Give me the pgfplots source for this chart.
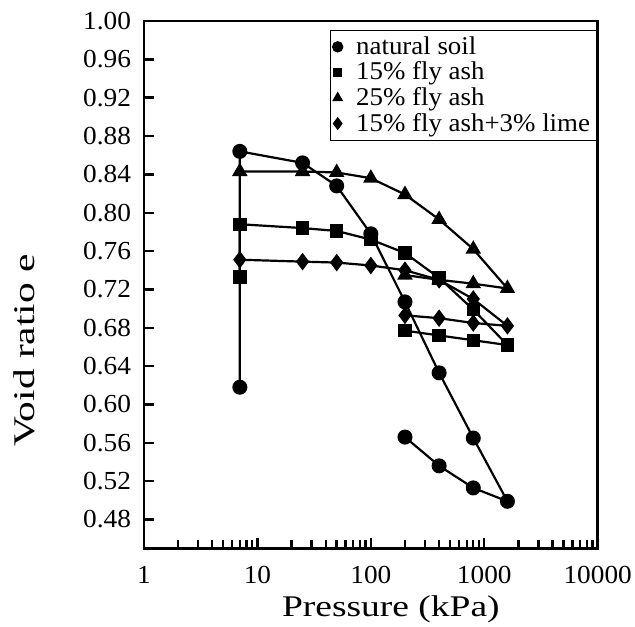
\documentclass[border=0pt]{standalone}
\usepackage{fontspec}
\setmainfont{Liberation Serif}
\newfontfamily\labelfont{Liberation Serif}[FakeStretch=1.25]
\newfontfamily\ylabelfont{Liberation Serif}[FakeStretch=1.38]
\newfontfamily\tickfont{Liberation Serif}[FakeStretch=1.05]
\usepackage{pgfplots}
\pgfplotsset{compat=1.18}
\begin{document}
\begin{tikzpicture}
\begin{axis}[name=ax, scale only axis, width=226.9pt, height=263.7pt,
  xmode=log, xmin=1, xmax=10000, ymin=0.45, ymax=1.0,
  xtick={1,10,100,1000,10000},
  xticklabels={1,10,100,1000,10000},
  minor xtick={2,3,4,5,6,7,8,9,20,30,40,50,60,70,80,90,200,300,400,500,600,700,800,900,2000,3000,4000,5000,6000,7000,8000,9000},
  ytick={0.48,0.52,0.56,0.60,0.64,0.68,0.72,0.76,0.80,0.84,0.88,0.92,0.96,1.00},
  yticklabels={0.48,0.52,0.56,0.60,0.64,0.68,0.72,0.76,0.80,0.84,0.88,0.92,0.96,1.00},
  tick align=inside, tick pos=left,
  major tick length=5pt, minor tick length=4pt,
  every tick/.style={black, line width=1.2pt},
  axis line style={line width=1.4pt},
  tick label style={font=\tickfont\fontsize{13}{14}\selectfont},
  yticklabel style={xshift=-3pt},
  xticklabel style={yshift=-5.5pt},
  xlabel={Pressure (kPa)},
  xlabel style={font=\labelfont\fontsize{15}{16}\selectfont, xshift=10pt, yshift=1pt},
  ylabel={Void ratio e},
  ylabel style={font=\ylabelfont\fontsize{15}{16}\selectfont, at={(ticklabel cs:0.375)}, yshift=17pt},
  legend style={at={(rel axis cs:0.41,0.983)}, anchor=north west, draw=black, line width=0.5pt,
    font=\tickfont\fontsize{12.8}{13}\selectfont, row sep=-1.7pt, inner xsep=1pt, inner ysep=1pt,
    cells={anchor=west}},
  legend image code/.code={\path (0pt,0pt) (8.5pt,0pt); \draw[#1] plot coordinates {(1.5pt,0pt)};},
]
\addplot[black, line width=1.1pt, mark=*, mark size=3.2pt, forget plot] coordinates {
(7,0.618)(7,0.864)(25,0.852)(50,0.828)(100,0.778)(200,0.707)(400,0.633)(800,0.565)(1600,0.499)(800,0.513)(400,0.536)(200,0.566)};
\addplot[black, line width=1.1pt, mark=square*, mark size=2.8pt, forget plot] coordinates {
(7,0.733)(7,0.788)(25,0.784)(50,0.781)(100,0.772)(200,0.758)(400,0.732)(800,0.699)(1600,0.662)(800,0.667)(400,0.672)(200,0.677)};
\addplot[black, line width=1.1pt, mark=triangle*, mark size=3.4pt, forget plot] coordinates {
(7,0.843)(25,0.843)(50,0.842)(100,0.836)(200,0.819)(400,0.793)(800,0.762)(1600,0.721)(800,0.726)(400,0.730)(200,0.735)};
\addplot[black, line width=1.1pt, mark=diamond*, mark size=3.5pt, forget plot] coordinates {
(7,0.751)(25,0.749)(50,0.748)(100,0.745)(200,0.740)(400,0.730)(800,0.710)(1600,0.682)(800,0.685)(400,0.690)(200,0.693)};
\addlegendimage{only marks, black, mark=*, mark size=2.6pt}
\addlegendentry{natural soil}
\addlegendimage{only marks, black, mark=square*, mark size=1.9pt}
\addlegendentry{15\% fly ash}
\addlegendimage{only marks, black, mark=triangle*, mark size=2.7pt}
\addlegendentry{25\% fly ash}
\addlegendimage{only marks, black, mark=diamond*, mark size=2.9pt}
\addlegendentry{15\% fly ash+3\% lime}
\end{axis}
\pgfresetboundingbox
\path ([shift={(-72pt,-39.35pt)}]ax.south west) rectangle ([shift={(18.65pt,10.5pt)}]ax.north east);
\end{tikzpicture}
\end{document}
